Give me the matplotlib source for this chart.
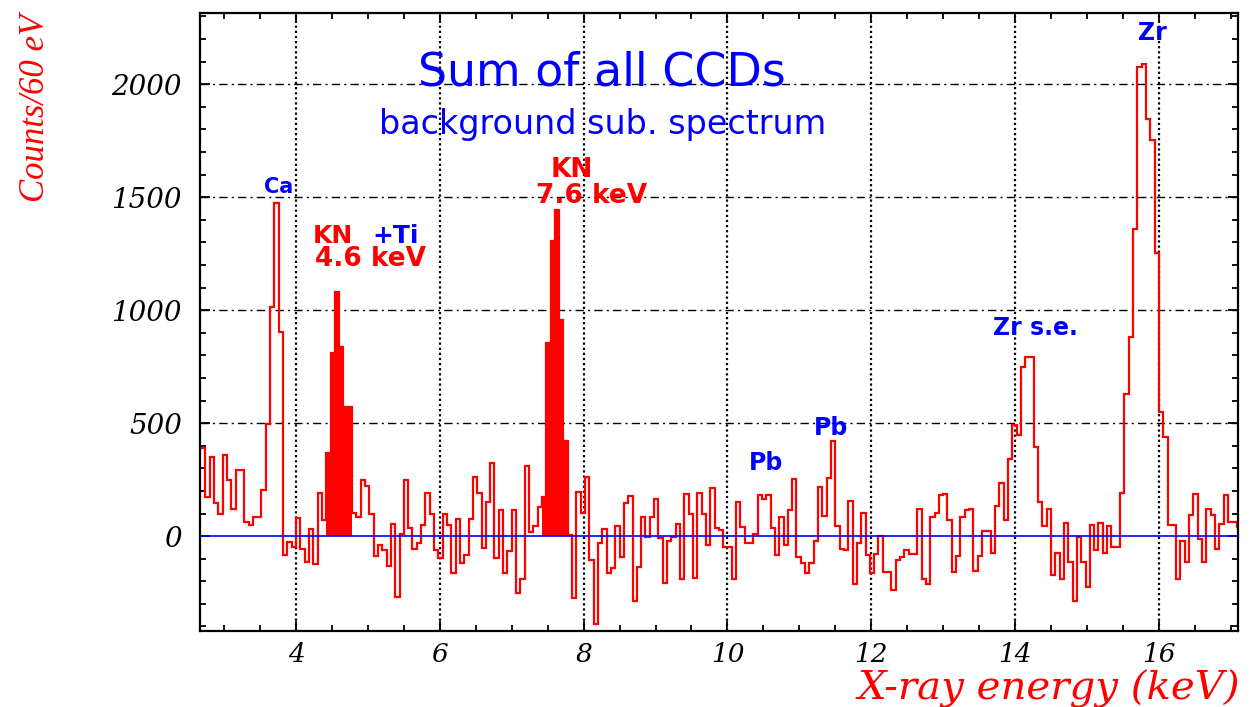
import numpy as np
import matplotlib
matplotlib.use("Agg")
import matplotlib.pyplot as plt
from matplotlib.ticker import MultipleLocator, FixedLocator, FixedFormatter

# ---------------- data ----------------
bin_start = 2.62      # keV, lower edge of first bin
bin_width = 0.06      # keV (60 eV bins)
counts = [
    388, 388, 174, 351, 145, 100, 358, 248, 122, 292, 292, 63, 49, 86, 86, 204,
    498, 1015, 1472, 904, -84, -25, -47, 78, -55, -113, 30, -124, 189, 71,
    369, 810, 1081, 838, 572, 572, 103, 86, 248, 221, 100, -88, -40, -62, -133,
    53, -268, 9, 248, 38, -59, -32, 49, 192, 97, -62, -99, 97, 50, -162,
    74, -121, -84, 74, 263, 192, -52, 152, 325, -99, 115, -165, -65, 115, -251,
    -192, 310, 19, 44, 130, 174, 855, 1307, 1445, 956, 422, 4, -276, 196, 103,
    263, -106, -389, -30, 30, -162, -143, 44, -91, 147, 177, -286, -136, 86, -3,
    86, 162, -10, -207, -21, -6, 53, -192, 186, 100, -187, 189, 100, -40, 211,
    34, 25, -47, -47, -192, 152, 41, -30, -32, 9, 184, 162, 184, 34, -84,
    86, -40, 115, 251, -91, -118, -165, -121, -21, 218, 89, 255, 422, 44, -59,
    -62, 156, -212, -32, 103, -84, -165, -80, 0, -158, -158, -239, -106, -91, -62,
    -80, -80, 122, -192, -212, 86, 103, 181, 186, 71, -158, -88, 83, 115, 118,
    -153, -88, 24, 24, -77, 133, 236, 71, 339, 491, 447, 749, 793, 793, 395,
    152, 44, 122, -173, -77, -192, 59, -114, -286, -6, -114, -224, 49, -60, 59,
    -77, 44, -47, -47, 189, 631, 882, 1361, 2077, 2089, 1848, 1752, 1251, 550, 439,
    49, 49, -192, -21, -114, 93, 186, -15, -114, 118, 93, -59, 53, 181, 63,
    63, 41,
]
# energy windows of the filled KN peaks (keV)
filled_windows = [(4.40, 4.80), (7.40, 7.80)]

x_ticks = [4, 6, 8, 10, 12, 14, 16]
x_tick_labels = ["4", "6", "8", "10", "12", "14", "16"]
y_ticks = [0, 500, 1000, 1500, 2000]
y_tick_labels = ["0", "500", "1000", "1500", "2000"]

title = "Sum of all CCDs"
subtitle = "background sub. spectrum"
x_label = "X-ray energy (keV)"
y_label = "Counts/60 eV"

# ---------------- figure ----------------
W, H = 1251, 707
fig = plt.figure(figsize=(W / 100, H / 100), dpi=100)
ax = fig.add_axes([200 / W, 1 - 631 / H, (1238 - 200) / W, (631 - 13) / H])

counts_arr = np.array(counts, dtype=float)
edges = bin_start + bin_width * np.arange(len(counts_arr) + 1)
centers = 0.5 * (edges[:-1] + edges[1:])

mask = np.zeros(len(counts_arr), dtype=bool)
for lo, hi in filled_windows:
    mask |= (centers > lo) & (centers < hi)

ax.stairs(np.where(mask, counts_arr, 0.0), edges, baseline=0, fill=True,
          color="red", lw=0, zorder=3)
ax.stairs(counts_arr, edges, baseline=None, color="red", lw=1.6, zorder=4)
ax.axhline(0, color="blue", lw=1.2, zorder=5)

ax.set_xlim(2.665, 17.10)
ax.set_ylim(-420, 2315)

# grid
for xv in x_ticks:
    ax.axvline(xv, color="black", lw=1.6, linestyle=(0, (1, 1.3)), zorder=1)
for yv in y_ticks[1:]:
    ax.axhline(yv, color="black", lw=1.0, linestyle=(0, (6, 3, 1.5, 3)), zorder=1)

# ticks
ax.xaxis.set_major_locator(FixedLocator(x_ticks))
ax.xaxis.set_major_formatter(FixedFormatter(x_tick_labels))
ax.xaxis.set_minor_locator(MultipleLocator(0.5))
ax.yaxis.set_major_locator(FixedLocator(y_ticks))
ax.yaxis.set_major_formatter(FixedFormatter(y_tick_labels))
ax.yaxis.set_minor_locator(MultipleLocator(100))
ax.tick_params(which="both", direction="in", top=True, right=True, width=1.3,
               color="black")
ax.tick_params(which="major", length=7)
ax.tick_params(which="minor", length=4)
ax.tick_params(axis="x", which="major", pad=8)
ax.tick_params(axis="y", which="major", pad=13)
for lab in ax.get_xticklabels():
    lab.set_fontfamily("DejaVu Serif")
    lab.set_fontstyle("italic")
    lab.set_fontsize(19)
for lab in ax.get_yticklabels():
    lab.set_fontfamily("DejaVu Serif")
    lab.set_fontstyle("italic")
    lab.set_fontsize(20)
for sp in ax.spines.values():
    sp.set_linewidth(1.6)
    sp.set_zorder(6)

# axis labels
fig.text(1240 / W, 1 - 699 / H, x_label, ha="right", va="baseline",
         color="red", fontsize=29, family="DejaVu Serif", style="italic")
fig.text(36 / W, 1 - 14 / H, y_label, ha="center", va="top", rotation=90,
         color="red", fontsize=25, family="Liberation Serif", style="italic")

# annotations (data coordinates)
def px2data(px, py):
    return (4 + (px - 296) / 71.9, (536 - py) / 0.226)

sans = "DejaVu Sans"

def label(px, py, s, color, size, ha="center", bold=True):
    x, y = px2data(px, py)
    ax.text(x, y, s, ha=ha, va="center", color=color, fontsize=size,
            family=sans, fontweight="bold" if bold else "normal", zorder=7)

label(602, 73, title, "blue", 33, bold=False)
label(603, 124, subtitle, "blue", 24, bold=False)
label(279, 187, "Ca", "blue", 15)
label(353, 236, "KN", "red", 18, ha="right")
label(372, 236, "+Ti", "blue", 18, ha="left")
label(370, 259, "4.6 keV", "red", 19)
label(572, 170, "KN", "red", 19)
label(592, 196, "7.6 keV", "red", 19)
label(766, 463, "Pb", "blue", 17)
label(831, 428, "Pb", "blue", 17)
label(1035, 328, "Zr s.e.", "blue", 17)
label(1152, 33, "Zr", "blue", 17)

fig.savefig("out.png", dpi=100)
